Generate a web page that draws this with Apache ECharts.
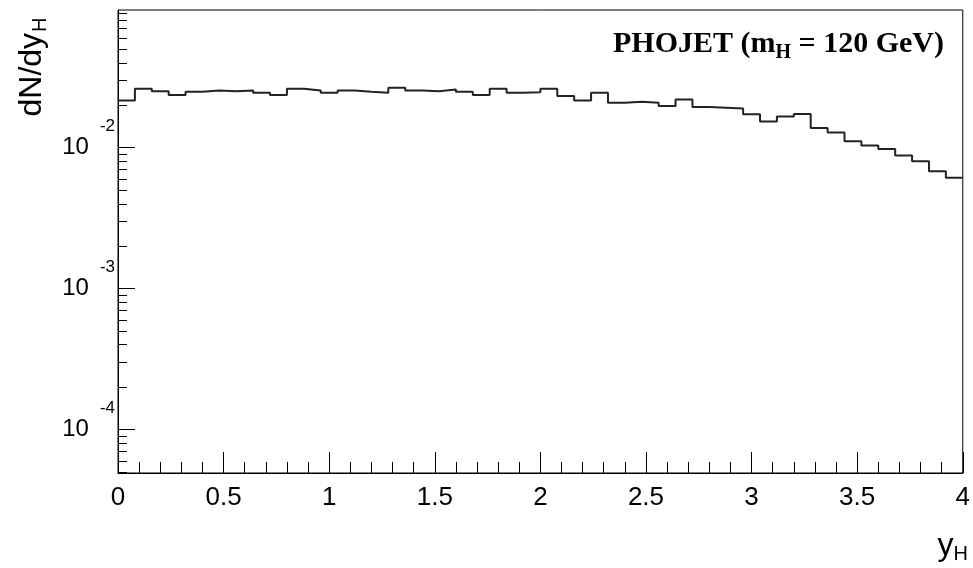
<!DOCTYPE html>
<html><head><meta charset="utf-8">
<script src="https://cdn.jsdelivr.net/npm/echarts@6/dist/echarts.min.js"></script>
<style>html,body{margin:0;padding:0;background:#fff}#c{width:973px;height:568px}</style>
</head><body><div id="c"></div>
<script>
// ---- data ----
const binLow = 0;
const binHigh = 4;
const binCount = 50;
const counts = [
  0.02153, 0.02603, 0.02508, 0.02350, 0.02479, 0.02533, 0.02508, 0.02533, 0.02440, 0.02350,
  0.02603, 0.02533, 0.02440, 0.02533, 0.02479, 0.02440, 0.02646, 0.02533, 0.02508, 0.02574,
  0.02479, 0.02350, 0.02603, 0.02440, 0.02460, 0.02603, 0.02312, 0.02153, 0.02440, 0.02073,
  0.02107, 0.02073, 0.01965, 0.02188, 0.01933, 0.01911, 0.01889, 0.01720, 0.01529, 0.01659,
  0.01725, 0.01374, 0.01278, 0.01104, 0.01030, 0.00976, 0.00875, 0.00798, 0.00678, 0.00609
];
const yMin = 4.9e-5;
const yMax = 0.0944;
const yDecades = [-5, -4, -3, -2, -1];
const xLabelName = 'y';
const xLabelSub = 'H';
const yLabelMain = 'dN/dy';
const yLabelSub = 'H';
const titleMain1 = 'PHOJET (m';
const titleSub = 'H';
const titleMain2 = ' = 120 GeV)';

// ---- build ----
const w = (binHigh - binLow) / binCount;
const histData = counts.map((v, i) => [binLow + i * w, v]);
histData.push([binHigh, counts[counts.length - 1]]);

const yTickVals = [];
yDecades.forEach(e => { for (let m = 1; m <= 9; m++) { const v = m * Math.pow(10, e); if (v >= yMin && v <= yMax) yTickVals.push([binLow, v, m === 1 ? 1 : 0]); } });

const chart = echarts.init(document.getElementById('c'), null, {renderer: 'canvas'});
const numFont = '"Liberation Sans Narrow", "Liberation Sans", Arial, sans-serif';
chart.setOption({
  backgroundColor: '#fff',
  animation: false,
  grid: {left: 118, right: 5, top: 10, bottom: 95, show: true, borderColor: '#000', borderWidth: 1, containLabel: false},
  xAxis: {
    type: 'value', min: binLow, max: binHigh, interval: 0.5,
    axisLine: {show: true, lineStyle: {color: '#000', width: 1}},
    axisTick: {show: true, inside: true, length: 21, lineStyle: {color: '#000', width: 1}},
    minorTick: {show: true, splitNumber: 5, length: 11, lineStyle: {color: '#000', width: 1}},
    splitLine: {show: false},
    axisLabel: {color: '#000', fontFamily: numFont, fontSize: 26, margin: 12,
      formatter: v => String(Math.round(v * 10) / 10)}
  },
  yAxis: {
    type: 'log', logBase: 10, min: yMin, max: yMax,
    axisLine: {show: true, lineStyle: {color: '#000', width: 1}},
    axisTick: {show: false},
    splitLine: {show: false},
    axisLabel: {
      margin: 3, showMinLabel: false, showMaxLabel: false,
      formatter: v => {
        const e = Math.log10(v);
        if (Math.abs(e - Math.round(e)) > 1e-6) return '';
        return '{b|10}{s|' + Math.round(e) + '}';
      },
      rich: {
        b: {fontFamily: numFont, fontSize: 24, color: '#000'},
        s: {fontFamily: numFont, fontSize: 17, color: '#000', padding: [0, 0, 42, 11]}
      }
    }
  },
  series: [
    {
      type: 'line', step: 'end', data: histData, symbol: 'none', silent: true,
      lineStyle: {color: '#222', width: 2}
    },
    {
      type: 'custom', silent: true, data: yTickVals, clip: false,
      renderItem: (params, api) => {
        const p = api.coord([api.value(0), api.value(1)]);
        const len = api.value(2) ? 17 : 9;
        return {type: 'line', shape: {x1: p[0], y1: Math.round(p[1]) + 0.5, x2: p[0] + len, y2: Math.round(p[1]) + 0.5},
          style: {stroke: '#000', lineWidth: 1}};
      }
    }
  ],
  graphic: [
    {
      type: 'text', x: 944, y: 44,
      style: {
        text: '{a|' + titleMain1 + '}{s|' + titleSub + '}{a|' + titleMain2 + '}',
        align: 'right', verticalAlign: 'middle',
        rich: {
          a: {fontFamily: '"Liberation Serif", "Times New Roman", serif', fontWeight: 'bold', fontSize: 30, fill: '#000'},
          s: {fontFamily: '"Liberation Serif", "Times New Roman", serif', fontWeight: 'bold', fontSize: 20, fill: '#000', padding: [17, 0, 0, 0]}
        }
      }
    },
    {
      type: 'text', x: 32, y: 67, rotation: Math.PI / 2,
      style: {
        text: '{a|' + yLabelMain + '}{s|' + yLabelSub + '}',
        align: 'center', verticalAlign: 'middle',
        rich: {
          a: {fontFamily: '"Liberation Sans", Arial, sans-serif', fontSize: 32, fill: '#000'},
          s: {fontFamily: '"Liberation Sans", Arial, sans-serif', fontSize: 20, fill: '#000', padding: [16, 0, 0, 1]}
        }
      }
    },
    {
      type: 'text', x: 968, y: 546,
      style: {
        text: '{a|' + xLabelName + '}{s|' + xLabelSub + '}',
        align: 'right', verticalAlign: 'middle',
        rich: {
          a: {fontFamily: '"Liberation Sans", Arial, sans-serif', fontSize: 32, fill: '#000'},
          s: {fontFamily: '"Liberation Sans", Arial, sans-serif', fontSize: 20, fill: '#000', padding: [16, 0, 0, 0]}
        }
      }
    }
  ]
});
</script></body></html>
